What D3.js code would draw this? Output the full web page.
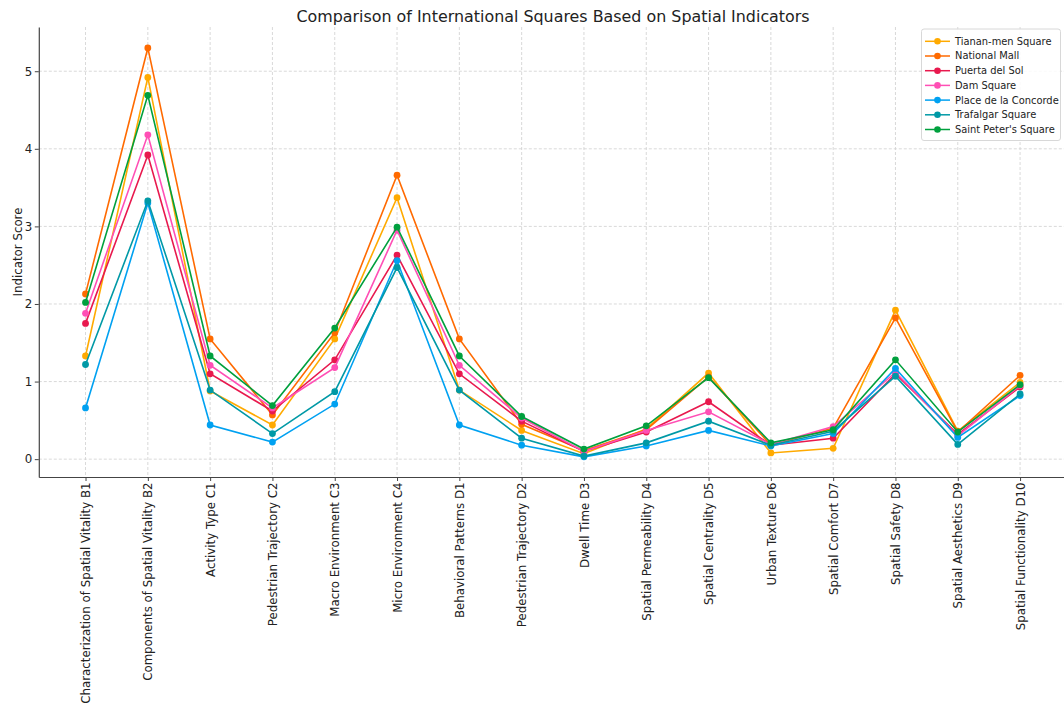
<!DOCTYPE html>
<html><head><meta charset="utf-8">
<script src="https://cdn.jsdelivr.net/npm/d3@7"></script>
<style>body{margin:0;background:#fff;} svg{display:block;font-family:"DejaVu Sans",sans-serif;}</style>
</head><body><svg id="c" width="1064" height="708"></svg>
<script>
const categories = ["Characterization of Spatial Vitality B1","Components of Spatial Vitality B2","Activity Type C1","Pedestrian Trajectory C2","Macro Environment C3","Micro Environment C4","Behavioral Patterns D1","Pedestrian Trajectory D2","Dwell Time D3","Spatial Permeability D4","Spatial Centrality D5","Urban Texture D6","Spatial Comfort D7","Spatial Safety D8","Spatial Aesthetics D9","Spatial Functionality D10"];
const seriesNames = ["Tianan-men Square","National Mall","Puerta del Sol","Dam Square","Place de la Concorde","Trafalgar Square","Saint Peter's Square"];
const tiananmen = [1.33, 4.92, 0.88, 0.44, 1.55, 3.37, 0.89, 0.37, 0.07, 0.39, 1.11, 0.08, 0.14, 1.92, 0.36, 0.99];
const nationalMall = [2.13, 5.30, 1.55, 0.57, 1.63, 3.66, 1.55, 0.45, 0.11, 0.38, 1.06, 0.18, 0.40, 1.82, 0.35, 1.08];
const puertaDelSol = [1.75, 3.92, 1.10, 0.62, 1.28, 2.63, 1.10, 0.49, 0.10, 0.35, 0.74, 0.18, 0.27, 1.10, 0.32, 0.93];
const damSquare = [1.88, 4.18, 1.21, 0.66, 1.18, 2.95, 1.21, 0.53, 0.10, 0.37, 0.61, 0.19, 0.42, 1.12, 0.30, 0.95];
const placeConcorde = [0.66, 3.30, 0.44, 0.22, 0.71, 2.56, 0.44, 0.18, 0.03, 0.17, 0.37, 0.17, 0.33, 1.17, 0.28, 0.82];
const trafalgar = [1.22, 3.33, 0.89, 0.33, 0.87, 2.47, 0.89, 0.27, 0.04, 0.21, 0.49, 0.18, 0.36, 1.07, 0.19, 0.84];
const saintPeter = [2.02, 4.69, 1.33, 0.69, 1.69, 2.99, 1.33, 0.55, 0.13, 0.43, 1.05, 0.21, 0.38, 1.28, 0.35, 0.96];
const colors = ["#FFAA00","#FF6A00","#E8194E","#FF4FB5","#00A1F1","#0099A6","#00A03E"];
const yTicks = [0,1,2,3,4,5];

const allSeries = [tiananmen, nationalMall, puertaDelSol, damSquare, placeConcorde, trafalgar, saintPeter];
const svg = d3.select("#c");
const pLeft = 38.8, pRight = 1066.8, pTop = 27, pBottom = 477;
const x = d3.scalePoint().domain(categories).range([pLeft, pRight]).padding(0.75);
const y = d3.scaleLinear().domain([-0.23, 5.57]).range([pBottom, pTop]);

// grid
const g = svg.append("g");
g.selectAll("line.vg").data(categories).enter().append("line")
  .attr("x1", d=>x(d)).attr("x2", d=>x(d)).attr("y1", pTop).attr("y2", pBottom)
  .attr("stroke", "#cfcfcf").attr("stroke-width", 0.8).attr("stroke-dasharray", "3,2");
g.selectAll("line.hg").data(yTicks).enter().append("line")
  .attr("x1", pLeft).attr("x2", pRight).attr("y1", d=>y(d)).attr("y2", d=>y(d))
  .attr("stroke", "#cfcfcf").attr("stroke-width", 0.8).attr("stroke-dasharray", "3,2");

// axes
const xAxis = svg.append("g").attr("transform", `translate(0,${pBottom})`)
  .call(d3.axisBottom(x).tickSize(4).tickSizeOuter(0));
xAxis.select(".domain").attr("stroke", "#444").attr("stroke-width", 1.2);
xAxis.selectAll(".tick line").attr("stroke", "#444");
xAxis.selectAll(".tick text").attr("font-size", "11.8px").attr("fill", "#222")
  .attr("transform", "rotate(-90)").attr("text-anchor", "end")
  .attr("x", -5.5).attr("y", 0).attr("dy", "0.35em").attr("font-family", "DejaVu Sans");

const yAxis = svg.append("g").attr("transform", `translate(${pLeft},0)`)
  .call(d3.axisLeft(y).tickValues(yTicks).tickFormat(d3.format("d")).tickSize(4).tickSizeOuter(0));
yAxis.select(".domain").attr("stroke", "#444").attr("stroke-width", 1.2);
yAxis.selectAll(".tick line").attr("stroke", "#444");
yAxis.selectAll(".tick text").attr("font-size", "11.8px").attr("fill", "#222").attr("font-family", "DejaVu Sans").attr("x", -6.5);

// lines
const line = d3.line().x((d,i)=>x(categories[i])).y(d=>y(d));
allSeries.forEach((s, k) => {
  svg.append("path").datum(s).attr("d", line).attr("fill", "none")
    .attr("stroke", colors[k]).attr("stroke-width", 1.6);
  svg.selectAll(null).data(s).enter().append("circle")
    .attr("cx", (d,i)=>x(categories[i])).attr("cy", d=>y(d)).attr("r", 3.4)
    .attr("fill", colors[k]);
});

// title and y label
svg.append("text").attr("x", 553).attr("y", 22).attr("text-anchor", "middle")
  .attr("font-size", "15.9px").attr("fill", "#222").text("Comparison of International Squares Based on Spatial Indicators");
svg.append("text").attr("transform", `translate(21.5,${(pTop+pBottom)/2}) rotate(-90)`)
  .attr("text-anchor", "middle").attr("font-size", "11.8px").attr("fill", "#222").text("Indicator Score");

// legend
const lg = svg.append("g");
lg.append("rect").attr("x", 921.5).attr("y", 29).attr("width", 139).attr("height", 111.5)
  .attr("rx", 2.5).attr("fill", "#fff").attr("fill-opacity", 0.85).attr("stroke", "#d8d8d8");
seriesNames.forEach((n, k) => {
  const yy = 41.3 + k * 14.7;
  lg.append("line").attr("x1", 925).attr("x2", 950).attr("y1", yy).attr("y2", yy)
    .attr("stroke", colors[k]).attr("stroke-width", 1.5);
  lg.append("circle").attr("cx", 937.5).attr("cy", yy).attr("r", 3.3).attr("fill", colors[k]);
  lg.append("text").attr("x", 955).attr("y", yy).attr("dy", "0.35em")
    .attr("font-size", "9.9px").attr("fill", "#222").text(n);
});
</script></body></html>
